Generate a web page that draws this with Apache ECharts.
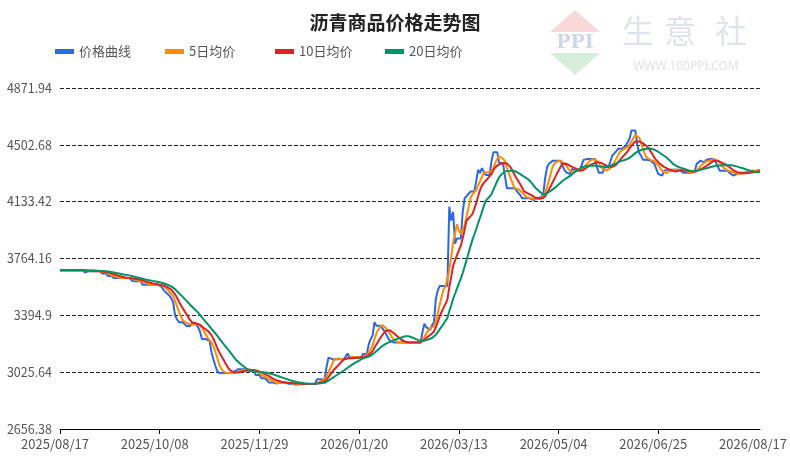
<!DOCTYPE html>
<html lang="zh">
<head>
	<meta charset="UTF-8">
	<title>沥青商品价格走势图</title>
	<script src="https://cdn.jsdelivr.net/npm/echarts@6/dist/echarts.min.js"></script>
	<style>
		html, body { margin: 0; padding: 0; background: #fff; }
	</style>
</head>
<body>
	<div id="main" style="width: 790px; height: 458px;"></div>
	<script>
		// 日价格，从 2025/08/17 起每天一个值（第 0 天 ~ 第 365 天）
		var priceData = [
			3688, 3688, 3688, 3688, 3688, 3688, 3688, 3688, 3688, 3688,
			3688, 3688, 3688, 3673, 3682, 3682, 3682, 3682, 3682, 3682,
			3682, 3682, 3666, 3666, 3666, 3650, 3650, 3650, 3637, 3637,
			3637, 3637, 3637, 3637, 3637, 3637, 3637, 3637, 3616, 3616,
			3616, 3616, 3616, 3594, 3594, 3594, 3594, 3594, 3594, 3594,
			3594, 3594, 3594, 3580, 3560, 3546, 3535, 3524, 3505, 3480,
			3394, 3370, 3350, 3350, 3350, 3350, 3325, 3325, 3325, 3345,
			3345, 3345, 3345, 3290, 3241, 3241, 3241, 3230, 3230, 3154,
			3110, 3067, 3034, 3020, 3020, 3020, 3020, 3020, 3020, 3020,
			3020, 3030, 3030, 3045, 3045, 3045, 3045, 3045, 3045, 3034,
			3034, 3034, 3008, 3008, 3008, 2986, 2986, 2986, 2986, 2958,
			2958, 2958, 2951, 2951, 2958, 2958, 2958, 2958, 2958, 2951,
			2951, 2951, 2951, 2943, 2943, 2949, 2949, 2949, 2949, 2949,
			2949, 2949, 2949, 2949, 2980, 2980, 2980, 2980, 2980, 3060,
			3120, 3132, 3110, 3110, 3110, 3110, 3110, 3110, 3110, 3110,
			3147, 3121, 3121, 3121, 3121, 3121, 3121, 3121, 3143, 3143,
			3143, 3208, 3240, 3263, 3350, 3328, 3328, 3328, 3328, 3295,
			3274, 3250, 3230, 3219, 3219, 3219, 3219, 3219, 3219, 3219,
			3219, 3219, 3219, 3219, 3219, 3219, 3219, 3219, 3219, 3285,
			3340, 3318, 3318, 3300, 3330, 3350, 3503, 3557, 3585, 3585,
			3585, 3585, 3585, 4101, 4010, 4068, 3860, 3894, 3894, 3894,
			4068, 4155, 4170, 4177, 4199, 4199, 4199, 4264, 4340, 4319,
			4351, 4340, 4307, 4307, 4307, 4394, 4455, 4455, 4455, 4384,
			4384, 4384, 4384, 4221, 4221, 4221, 4221, 4221, 4221, 4190,
			4177, 4155, 4155, 4155, 4155, 4155, 4155, 4144, 4144, 4155,
			4161, 4165, 4180, 4290, 4357, 4380, 4389, 4400, 4400, 4400,
			4400, 4400, 4368, 4340, 4324, 4313, 4313, 4346, 4346, 4335,
			4335, 4335, 4346, 4405, 4410, 4410, 4410, 4410, 4410, 4410,
			4357, 4322, 4322, 4322, 4357, 4357, 4357, 4357, 4433, 4444,
			4460, 4477, 4477, 4477, 4485, 4495, 4507, 4542, 4596, 4596,
			4596, 4507, 4450, 4433, 4405, 4405, 4405, 4405, 4400, 4389,
			4378, 4368, 4313, 4303, 4303, 4335, 4340, 4340, 4340, 4340,
			4340, 4340, 4340, 4340, 4340, 4322, 4322, 4322, 4322, 4322,
			4322, 4330, 4379, 4390, 4400, 4389, 4389, 4405, 4411, 4411,
			4411, 4411, 4389, 4379, 4335, 4335, 4335, 4335, 4335, 4322,
			4322, 4303, 4313, 4313, 4313, 4322, 4322, 4322, 4330, 4330,
			4330, 4335, 4335, 4335, 4340, 4340
		]

		// x 轴刻度（天序号）与刻度文字
		var xTickDays = [0, 52, 104, 156, 208, 260, 312, 364]
		var xTickLabels = ['2025/08/17', '2025/10/08', '2025/11/29', '2026/01/20',
			'2026/03/13', '2026/05/04', '2026/06/25', '2026/08/17']

		// y 轴刻度
		var yTicks = [2656.38, 3025.64, 3394.9, 3764.16, 4133.42, 4502.68, 4871.94]

		var seriesNames = ['价格曲线', '5日均价', '10日均价', '20日均价']
		var seriesColors = ['#2a68e6', '#ff8c00', '#dc2323', '#00936a']

		/* 计算 N 日均价，开头不足 N 天时用已有天数平均
		 */
		function calculateMA(dayCount, data) {
			var result = []
			for (var i = 0; i < data.length; i++) {
				var sum = 0
				var cnt = 0
				for (var j = Math.max(0, i - dayCount + 1); j <= i; j++) {
					sum += data[j]
					cnt++
				}
				result.push([i, +(sum / cnt).toFixed(2)])
			}
			return result
		}

		function toPoints(data) {
			return data.map(function (v, i) { return [i, v] })
		}

		var fontFamily = '"Noto Sans CJK SC", "Noto Sans", sans-serif'

		var legendLeft = [50, 160, 270, 380]
		var legends = seriesNames.map(function (name, i) {
			return {
				data: [name],
				left: legendLeft[i],
				top: 40,
				icon: 'rect',
				itemWidth: 19,
				itemHeight: 5,
				textStyle: { color: '#555', fontSize: 13, fontFamily: fontFamily }
			}
		})

		var seriesData = [
			toPoints(priceData),
			calculateMA(5, priceData),
			calculateMA(10, priceData),
			calculateMA(20, priceData)
		]

		var series = seriesNames.map(function (name, i) {
			return {
				name: name,
				type: 'line',
				data: seriesData[i],
				showSymbol: false,
				symbol: 'none',
				color: seriesColors[i],
				lineStyle: { width: 2, color: seriesColors[i] },
				animation: false
			}
		})

		var myChart = echarts.init(document.getElementById('main'))

		var option = {
			backgroundColor: '#fff',
			animation: false,
			title: {
				text: '沥青商品价格走势图',
				left: 'center',
				top: 8,
				textStyle: { fontSize: 19, fontWeight: 'bold', color: '#222', fontFamily: fontFamily }
			},
			legend: legends,
			grid: {
				left: 60,
				right: 29,
				top: 88,
				bottom: 29,
				containLabel: false
			},
			xAxis: {
				type: 'value',
				min: 0,
				max: 365,
				axisLine: { lineStyle: { color: '#000', width: 1 } },
				axisTick: {
					length: 5,
					lineStyle: { color: '#000' },
					customValues: xTickDays.slice(0, 7)
				},
				splitLine: { show: false },
				axisLabel: {
					customValues: xTickDays,
					color: '#555',
					fontSize: 13,
					fontFamily: fontFamily,
					margin: 9,
					padding: [0, 10, 0, 0],
					formatter: function (v) {
						var k = xTickDays.indexOf(v)
						return k >= 0 ? xTickLabels[k] : ''
					}
				}
			},
			yAxis: {
				type: 'value',
				min: yTicks[0],
				max: yTicks[yTicks.length - 1],
				axisLine: { show: false },
				axisTick: { show: false, customValues: yTicks },
				splitLine: {
					show: true,
					lineStyle: { color: '#222', type: [4, 2], width: 1 }
				},
				axisLabel: {
					customValues: yTicks,
					color: '#555',
					fontSize: 12.5,
					fontFamily: fontFamily,
					margin: 8,
					formatter: function (v) { return String(v) }
				}
			},
			graphic: [
				{ type: 'polygon', shape: { points: [[575, 10], [600, 32], [550, 32]] }, style: { fill: '#f8d8d8' }, silent: true },
				{ type: 'polygon', shape: { points: [[550, 53], [600, 53], [575, 75]] }, style: { fill: '#d6efda' }, silent: true },
				{ type: 'text', x: 575, y: 43, style: { text: 'PPI', fill: '#cfd6e7', font: 'bold 19px "DejaVu Serif", serif', align: 'center', verticalAlign: 'middle' }, silent: true },
				{ type: 'text', x: 638, y: 31, style: { text: '生', fill: '#dfe3ec', font: '32px "Noto Sans CJK SC"', align: 'center', verticalAlign: 'middle' }, silent: true },
				{ type: 'text', x: 680, y: 31, style: { text: '意', fill: '#dfe3ec', font: '32px "Noto Sans CJK SC"', align: 'center', verticalAlign: 'middle' }, silent: true },
				{ type: 'text', x: 731, y: 31, style: { text: '社', fill: '#dfe3ec', font: '32px "Noto Sans CJK SC"', align: 'center', verticalAlign: 'middle' }, silent: true },
				{ type: 'text', x: 686, y: 67, style: { text: 'WWW.100PPI.COM', fill: '#e2e2e2', font: '12px "Noto Sans", sans-serif', align: 'center', verticalAlign: 'middle' }, silent: true }
			],
			series: series
		}

		myChart.setOption(option)
	</script>
</body>
</html>
